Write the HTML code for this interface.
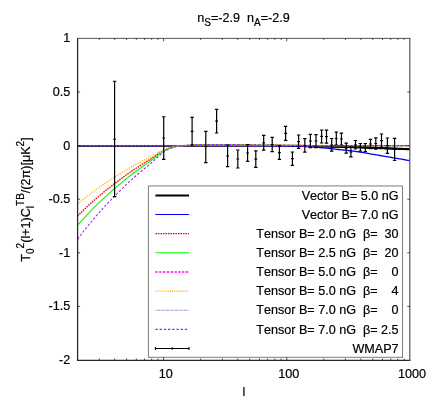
<!DOCTYPE html><html><head><meta charset="utf-8"><style>html,body{margin:0;padding:0;background:#fff}svg{display:block;will-change:transform}text{font-kerning:none;font-family:"Liberation Sans",sans-serif;font-size:12.6px;fill:#000;stroke:#000;stroke-width:0.2px}</style></head><body>
<svg width="429" height="401" viewBox="0 0 429 401">
<rect width="429" height="401" fill="#fff"/>
<g fill="none" stroke-linejoin="round">
<polyline points="318.45,146.31 320.11,146.34 321.77,146.37 323.43,146.40 325.09,146.44 326.75,146.47 328.41,146.51 330.07,146.55 331.73,146.59 333.39,146.64 335.06,146.68 336.72,146.72 338.38,146.76 340.04,146.80 341.70,146.84 343.36,146.88 345.02,146.92 346.68,146.95 348.34,146.99 350.00,147.03 351.67,147.07 353.33,147.11 354.99,147.16 356.65,147.21 358.31,147.26 359.97,147.32 361.63,147.38 363.29,147.45 364.95,147.51 366.61,147.58 368.27,147.64 369.94,147.71 371.60,147.78 373.26,147.84 374.92,147.91 376.58,147.97 378.24,148.03 379.90,148.09 381.56,148.16 383.22,148.22 384.88,148.28 386.55,148.34 388.21,148.41 389.87,148.47 391.53,148.53 393.19,148.60 394.85,148.66 396.51,148.72 398.17,148.78 399.83,148.85 401.50,148.91 403.16,148.97 404.82,149.03 406.48,149.10 408.14,149.16 409.80,149.22" stroke="#000" stroke-width="2.1"/>
<polyline points="77.60,145.90 79.26,145.90 80.92,145.90 82.58,145.90 84.24,145.90 85.91,145.90 87.57,145.90 89.23,145.90 90.89,145.90 92.55,145.90 94.21,145.90 95.87,145.90 97.53,145.90 99.19,145.90 100.85,145.90 102.52,145.90 104.18,145.90 105.84,145.90 107.50,145.90 109.16,145.90 110.82,145.90 112.48,145.90 114.14,145.90 115.80,145.90 117.46,145.90 119.12,145.90 120.79,145.90 122.45,145.90 124.11,145.90 125.77,145.90 127.43,145.90 129.09,145.90 130.75,145.90 132.41,145.90 134.07,145.90 135.74,145.90 137.40,145.90 139.06,145.90 140.72,145.90 142.38,145.90 144.04,145.90 145.70,145.90 147.36,145.90 149.02,145.90 150.68,145.90 152.34,145.90 154.01,145.90 155.67,145.90 157.33,145.90 158.99,145.90 160.65,145.90 162.31,145.90 163.97,145.90 165.63,145.90 167.29,145.90 168.96,145.90 170.62,145.90 172.28,145.90 173.94,145.90 175.60,145.90 177.26,145.90 178.92,145.90 180.58,145.90 182.24,145.90 183.90,145.90 185.56,145.90 187.23,145.90 188.89,145.90 190.55,145.90 192.21,145.90 193.87,145.90 195.53,145.90 197.19,145.90 198.85,145.90 200.51,145.90 202.18,145.90 203.84,145.90 205.50,145.90 207.16,145.90 208.82,145.90 210.48,145.90 212.14,145.90 213.80,145.90 215.46,145.90 217.12,145.90 218.79,145.90 220.45,145.90 222.11,145.90 223.77,145.90 225.43,145.90 227.09,145.90 228.75,145.90 230.41,145.90 232.07,145.90 233.73,145.90 235.40,145.90 237.06,145.90 238.72,145.90 240.38,145.90 242.04,145.90 243.70,145.90 245.36,145.90 247.02,145.90 248.68,145.90 250.34,145.90 252.01,145.90 253.67,145.90 255.33,145.90 256.99,145.90 258.65,145.90 260.31,145.90 261.97,145.90 263.63,145.90 265.29,145.90 266.95,145.90 268.62,145.90 270.28,145.91 271.94,145.91 273.60,145.91 275.26,145.92 276.92,145.92 278.58,145.92 280.24,145.93 281.90,145.93 283.56,145.94 285.23,145.94 286.89,145.95 288.55,145.96 290.21,145.97 291.87,145.98 293.53,145.99 295.19,146.01 296.85,146.02 298.51,146.04 300.17,146.06 301.84,146.07 303.50,146.09 305.16,146.11 306.82,146.13 308.48,146.15 310.14,146.17 311.80,146.20 313.46,146.22 315.12,146.25 316.78,146.28 318.45,146.31 320.11,146.34 321.77,146.37 323.43,146.40 325.09,146.44 326.75,146.47 328.41,146.51 330.07,146.55 331.73,146.59 333.39,146.64 335.06,146.68 336.72,146.72 338.38,146.76 340.04,146.80 341.70,146.84 343.36,146.88 345.02,146.92 346.68,146.95 348.34,146.99 350.00,147.03 351.67,147.07 353.33,147.11 354.99,147.16 356.65,147.21 358.31,147.26 359.97,147.32 361.63,147.38 363.29,147.45 364.95,147.51 366.61,147.58 368.27,147.64 369.94,147.71 371.60,147.78 373.26,147.84 374.92,147.91 376.58,147.97 378.24,148.03 379.90,148.09 381.56,148.16 383.22,148.22 384.88,148.28 386.55,148.34 388.21,148.41 389.87,148.47 391.53,148.53 393.19,148.60 394.85,148.66 396.51,148.72 398.17,148.78 399.83,148.85 401.50,148.91 403.16,148.97 404.82,149.03 406.48,149.10 408.14,149.16 409.80,149.22" stroke="#000" stroke-width="1.8"/>
<polyline points="77.60,145.60 79.26,145.60 80.92,145.60 82.58,145.60 84.24,145.60 85.91,145.60 87.57,145.60 89.23,145.60 90.89,145.60 92.55,145.60 94.21,145.60 95.87,145.60 97.53,145.60 99.19,145.60 100.85,145.60 102.52,145.60 104.18,145.60 105.84,145.60 107.50,145.60 109.16,145.60 110.82,145.60 112.48,145.60 114.14,145.60 115.80,145.60 117.46,145.60 119.12,145.60 120.79,145.60 122.45,145.60 124.11,145.60 125.77,145.60 127.43,145.60 129.09,145.60 130.75,145.60 132.41,145.60 134.07,145.60 135.74,145.60 137.40,145.60 139.06,145.60 140.72,145.60 142.38,145.60 144.04,145.60 145.70,145.60 147.36,145.60 149.02,145.60 150.68,145.60 152.34,145.60 154.01,145.60 155.67,145.60 157.33,145.60 158.99,145.60 160.65,145.60 162.31,145.60 163.97,145.60 165.63,145.60 167.29,145.60 168.96,145.60 170.62,145.60 172.28,145.60 173.94,145.60 175.60,145.60 177.26,145.60 178.92,145.60 180.58,145.60 182.24,145.60 183.90,145.60 185.56,145.60 187.23,145.60 188.89,145.60 190.55,145.60 192.21,145.60 193.87,145.60 195.53,145.60 197.19,145.60 198.85,145.60 200.51,145.60 202.18,145.60 203.84,145.60 205.50,145.60 207.16,145.60 208.82,145.60 210.48,145.60 212.14,145.60 213.80,145.60 215.46,145.60 217.12,145.60 218.79,145.60 220.45,145.60 222.11,145.60 223.77,145.60 225.43,145.60 227.09,145.60 228.75,145.60 230.41,145.60 232.07,145.60 233.73,145.60 235.40,145.60 237.06,145.60 238.72,145.60 240.38,145.60 242.04,145.60 243.70,145.60 245.36,145.60 247.02,145.60 248.68,145.60 250.34,145.60 252.01,145.60 253.67,145.60 255.33,145.60 256.99,145.60 258.65,145.60 260.31,145.60 261.97,145.60 263.63,145.60 265.29,145.60 266.95,145.61 268.62,145.62 270.28,145.63 271.94,145.64 273.60,145.66 275.26,145.67 276.92,145.69 278.58,145.71 280.24,145.73 281.90,145.75 283.56,145.77 285.23,145.80 286.89,145.82 288.55,145.86 290.21,145.90 291.87,145.96 293.53,146.02 295.19,146.09 296.85,146.16 298.51,146.24 300.17,146.31 301.84,146.38 303.50,146.47 305.16,146.55 306.82,146.64 308.48,146.74 310.14,146.84 311.80,146.94 313.46,147.06 315.12,147.18 316.78,147.31 318.45,147.44 320.11,147.58 321.77,147.73 323.43,147.88 325.09,148.03 326.75,148.19 328.41,148.37 330.07,148.55 331.73,148.74 333.39,148.93 335.06,149.12 336.72,149.31 338.38,149.50 340.04,149.68 341.70,149.85 343.36,150.02 345.02,150.19 346.68,150.35 348.34,150.52 350.00,150.70 351.67,150.89 353.33,151.08 354.99,151.29 356.65,151.52 358.31,151.76 359.97,152.02 361.63,152.30 363.29,152.58 364.95,152.88 366.61,153.18 368.27,153.48 369.94,153.78 371.60,154.08 373.26,154.38 374.92,154.66 376.58,154.95 378.24,155.23 379.90,155.51 381.56,155.79 383.22,156.07 384.88,156.36 386.55,156.64 388.21,156.92 389.87,157.21 391.53,157.49 393.19,157.77 394.85,158.05 396.51,158.34 398.17,158.62 399.83,158.90 401.50,159.19 403.16,159.47 404.82,159.76 406.48,160.04 408.14,160.32 409.80,160.61" stroke="#0000ff" stroke-width="1.3"/>
<polyline points="77.60,215.92 79.26,214.28 80.92,212.65 82.58,211.04 84.24,209.45 85.91,207.88 87.57,206.32 89.23,204.79 90.89,203.27 92.55,201.77 94.21,200.29 95.87,198.83 97.53,197.38 99.19,195.95 100.85,194.54 102.52,193.16 104.18,191.79 105.84,190.45 107.50,189.13 109.16,187.82 110.82,186.52 112.48,185.24 114.14,183.96 115.80,182.70 117.46,181.44 119.12,180.20 120.79,178.96 122.45,177.73 124.11,176.52 125.77,175.32 127.43,174.14 129.09,172.97 130.75,171.81 132.41,170.68 134.07,169.56 135.74,168.47 137.40,167.40 139.06,166.33 140.72,165.28 142.38,164.24 144.04,163.20 145.70,162.16 147.36,161.12 149.02,160.07 150.68,159.02 152.34,157.94 154.01,156.82 155.67,155.68 157.33,154.54 158.99,153.43 160.65,152.37 162.31,151.39 163.97,150.49 165.63,149.64 167.29,148.85 168.96,148.17 170.62,147.63 172.28,147.14 173.94,146.74 175.60,146.44 177.26,146.22 178.92,146.03 180.58,145.88 182.24,145.74 183.90,145.62 185.56,145.51 187.23,145.42 188.89,145.33 190.55,145.25 192.21,145.17 193.87,145.07 195.53,144.96 197.19,144.86 198.85,144.79 200.51,144.76 202.18,144.76 203.84,144.76 205.50,144.76 207.16,144.76 208.82,144.76 210.48,144.76 212.14,144.76 213.80,144.76 215.46,144.76 217.12,144.76 218.79,144.76 220.45,144.76 222.11,144.76 223.77,144.76 225.43,144.76 227.09,144.77 228.75,144.78 230.41,144.79 232.07,144.80 233.73,144.81 235.40,144.83 237.06,144.85 238.72,144.87 240.38,144.89 242.04,144.91 243.70,144.93 245.36,144.95 247.02,144.97 248.68,144.99 250.34,145.01 252.01,145.03 253.67,145.05 255.33,145.07 256.99,145.09 258.65,145.10 260.31,145.12 261.97,145.13 263.63,145.14 265.29,145.16 266.95,145.17 268.62,145.18 270.28,145.19 271.94,145.21 273.60,145.22 275.26,145.23 276.92,145.24 278.58,145.26 280.24,145.27 281.90,145.28 283.56,145.29 285.23,145.31 286.89,145.32 288.55,145.33 290.21,145.35 291.87,145.36 293.53,145.38 295.19,145.39 296.85,145.41 298.51,145.43 300.17,145.44 301.84,145.46 303.50,145.48 305.16,145.49 306.82,145.51 308.48,145.52 310.14,145.54 311.80,145.55 313.46,145.56 315.12,145.57 316.78,145.58 318.45,145.59 320.11,145.59 321.77,145.60 323.43,145.60 325.09,145.60 326.75,145.60 328.41,145.60 330.07,145.60 331.73,145.60 333.39,145.60 335.06,145.60 336.72,145.60 338.38,145.60 340.04,145.60 341.70,145.60 343.36,145.60 345.02,145.60 346.68,145.60 348.34,145.60 350.00,145.60 351.67,145.60 353.33,145.60 354.99,145.60 356.65,145.60 358.31,145.60 359.97,145.60 361.63,145.60 363.29,145.60 364.95,145.60 366.61,145.60 368.27,145.60 369.94,145.60 371.60,145.60 373.26,145.60 374.92,145.60 376.58,145.60 378.24,145.60 379.90,145.60 381.56,145.60 383.22,145.60 384.88,145.60 386.55,145.60 388.21,145.60 389.87,145.60 391.53,145.60 393.19,145.60 394.85,145.60 396.51,145.60 398.17,145.60 399.83,145.60 401.50,145.60 403.16,145.60 404.82,145.60 406.48,145.60 408.14,145.60 409.80,145.60" stroke="#ff0000" stroke-width="1.35" stroke-dasharray="1.6 0.9"/>
<polyline points="77.60,225.14 79.26,223.28 80.92,221.44 82.58,219.62 84.24,217.82 85.91,216.04 87.57,214.28 89.23,212.55 90.89,210.83 92.55,209.13 94.21,207.46 95.87,205.80 97.53,204.17 99.19,202.55 100.85,200.96 102.52,199.39 104.18,197.85 105.84,196.33 107.50,194.83 109.16,193.35 110.82,191.89 112.48,190.43 114.14,188.99 115.80,187.56 117.46,186.14 119.12,184.73 120.79,183.33 122.45,181.95 124.11,180.57 125.77,179.22 127.43,177.88 129.09,176.55 130.75,175.25 132.41,173.97 134.07,172.71 135.74,171.47 137.40,170.25 139.06,169.05 140.72,167.86 142.38,166.68 144.04,165.51 145.70,164.33 147.36,163.16 149.02,161.97 150.68,160.78 152.34,159.55 154.01,158.29 155.67,157.00 157.33,155.72 158.99,154.46 160.65,153.26 162.31,152.14 163.97,151.13 165.63,150.17 167.29,149.28 168.96,148.51 170.62,147.89 172.28,147.35 173.94,146.89 175.60,146.55 177.26,146.30 178.92,146.09 180.58,145.92 182.24,145.76 183.90,145.63 185.56,145.50 187.23,145.39 188.89,145.30 190.55,145.20 192.21,145.11 193.87,145.00 195.53,144.88 197.19,144.77 198.85,144.68 200.51,144.65 202.18,144.65 203.84,144.65 205.50,144.65 207.16,144.65 208.82,144.65 210.48,144.65 212.14,144.65 213.80,144.65 215.46,144.65 217.12,144.65 218.79,144.65 220.45,144.65 222.11,144.65 223.77,144.65 225.43,144.65 227.09,144.66 228.75,144.67 230.41,144.68 232.07,144.70 233.73,144.71 235.40,144.73 237.06,144.75 238.72,144.77 240.38,144.79 242.04,144.82 243.70,144.84 245.36,144.86 247.02,144.89 248.68,144.91 250.34,144.93 252.01,144.96 253.67,144.98 255.33,145.00 256.99,145.02 258.65,145.04 260.31,145.05 261.97,145.07 263.63,145.08 265.29,145.10 266.95,145.11 268.62,145.13 270.28,145.14 271.94,145.16 273.60,145.17 275.26,145.18 276.92,145.20 278.58,145.21 280.24,145.23 281.90,145.24 283.56,145.25 285.23,145.27 286.89,145.28 288.55,145.30 290.21,145.31 291.87,145.33 293.53,145.35 295.19,145.37 296.85,145.39 298.51,145.41 300.17,145.42 301.84,145.44 303.50,145.46 305.16,145.48 306.82,145.50 308.48,145.51 310.14,145.53 311.80,145.54 313.46,145.56 315.12,145.57 316.78,145.58 318.45,145.59 320.11,145.59 321.77,145.60 323.43,145.60 325.09,145.60 326.75,145.60 328.41,145.60 330.07,145.60 331.73,145.60 333.39,145.60 335.06,145.60 336.72,145.60 338.38,145.60 340.04,145.60 341.70,145.60 343.36,145.60 345.02,145.60 346.68,145.60 348.34,145.60 350.00,145.60 351.67,145.60 353.33,145.60 354.99,145.60 356.65,145.60 358.31,145.60 359.97,145.60 361.63,145.60 363.29,145.60 364.95,145.60 366.61,145.60 368.27,145.60 369.94,145.60 371.60,145.60 373.26,145.60 374.92,145.60 376.58,145.60 378.24,145.60 379.90,145.60 381.56,145.60 383.22,145.60 384.88,145.60 386.55,145.60 388.21,145.60 389.87,145.60 391.53,145.60 393.19,145.60 394.85,145.60 396.51,145.60 398.17,145.60 399.83,145.60 401.50,145.60 403.16,145.60 404.82,145.60 406.48,145.60 408.14,145.60 409.80,145.60" stroke="#00ff00" stroke-width="1.1"/>
<polyline points="77.60,145.65 409.80,145.65" stroke="#ff00ff" stroke-width="1.35" stroke-dasharray="1.5 2.3"/>
<polyline points="77.60,203.92 79.26,202.55 80.92,201.20 82.58,199.87 84.24,198.55 85.91,197.24 87.57,195.95 89.23,194.68 90.89,193.42 92.55,192.18 94.21,190.95 95.87,189.74 97.53,188.54 99.19,187.35 100.85,186.19 102.52,185.04 104.18,183.91 105.84,182.79 107.50,181.69 109.16,180.61 110.82,179.53 112.48,178.47 114.14,177.41 115.80,176.36 117.46,175.32 119.12,174.29 120.79,173.26 122.45,172.25 124.11,171.24 125.77,170.25 127.43,169.26 129.09,168.29 130.75,167.34 132.41,166.40 134.07,165.47 135.74,164.57 137.40,163.67 139.06,162.79 140.72,161.92 142.38,161.06 144.04,160.20 145.70,159.34 147.36,158.47 149.02,157.60 150.68,156.73 152.34,155.83 154.01,154.90 155.67,153.96 157.33,153.02 158.99,152.10 160.65,151.22 162.31,150.40 163.97,149.65 165.63,148.95 167.29,148.30 168.96,147.73 170.62,147.28 172.28,146.88 173.94,146.54 175.60,146.30 177.26,146.11 178.92,145.96 180.58,145.83 182.24,145.72 183.90,145.62 185.56,145.53 187.23,145.45 188.89,145.38 190.55,145.31 192.21,145.24 193.87,145.16 195.53,145.07 197.19,144.99 198.85,144.93 200.51,144.90 202.18,144.90 203.84,144.90 205.50,144.90 207.16,144.90 208.82,144.90 210.48,144.90 212.14,144.90 213.80,144.90 215.46,144.90 217.12,144.90 218.79,144.90 220.45,144.90 222.11,144.90 223.77,144.90 225.43,144.90 227.09,144.91 228.75,144.92 230.41,144.93 232.07,144.94 233.73,144.95 235.40,144.96 237.06,144.98 238.72,144.99 240.38,145.01 242.04,145.03 243.70,145.04 245.36,145.06 247.02,145.08 248.68,145.09 250.34,145.11 252.01,145.13 253.67,145.14 255.33,145.16 256.99,145.17 258.65,145.19 260.31,145.20 261.97,145.21 263.63,145.22 265.29,145.23 266.95,145.24 268.62,145.25 270.28,145.26 271.94,145.27 273.60,145.28 275.26,145.30 276.92,145.31 278.58,145.32 280.24,145.33 281.90,145.34 283.56,145.35 285.23,145.36 286.89,145.37 288.55,145.38 290.21,145.39 291.87,145.40 293.53,145.42 295.19,145.43 296.85,145.44 298.51,145.46 300.17,145.47 301.84,145.49 303.50,145.50 305.16,145.51 306.82,145.52 308.48,145.54 310.14,145.55 311.80,145.56 313.46,145.57 315.12,145.58 316.78,145.59 318.45,145.59 320.11,145.60 321.77,145.60 323.43,145.60 325.09,145.60 326.75,145.60 328.41,145.60 330.07,145.60 331.73,145.60 333.39,145.60 335.06,145.60 336.72,145.60 338.38,145.60 340.04,145.60 341.70,145.60 343.36,145.60 345.02,145.60 346.68,145.60 348.34,145.60 350.00,145.60 351.67,145.60 353.33,145.60 354.99,145.60 356.65,145.60 358.31,145.60 359.97,145.60 361.63,145.60 363.29,145.60 364.95,145.60 366.61,145.60 368.27,145.60 369.94,145.60 371.60,145.60 373.26,145.60 374.92,145.60 376.58,145.60 378.24,145.60 379.90,145.60 381.56,145.60 383.22,145.60 384.88,145.60 386.55,145.60 388.21,145.60 389.87,145.60 391.53,145.60 393.19,145.60 394.85,145.60 396.51,145.60 398.17,145.60 399.83,145.60 401.50,145.60 403.16,145.60 404.82,145.60 406.48,145.60 408.14,145.60 409.80,145.60" stroke="#ffa500" stroke-width="1.3" stroke-dasharray="1 1.1"/>
<polyline points="77.60,145.45 409.80,145.45" stroke="#8080c0" stroke-width="0.9" stroke-dasharray="0.6 0.9"/>
<polyline points="77.60,239.08 79.26,236.89 80.92,234.72 82.58,232.59 84.24,230.47 85.91,228.38 87.57,226.32 89.23,224.28 90.89,222.26 92.55,220.27 94.21,218.30 95.87,216.35 97.53,214.43 99.19,212.53 100.85,210.66 102.52,208.82 104.18,207.01 105.84,205.22 107.50,203.46 109.16,201.72 110.82,200.00 112.48,198.29 114.14,196.60 115.80,194.91 117.46,193.24 119.12,191.59 120.79,189.94 122.45,188.31 124.11,186.70 125.77,185.11 127.43,183.53 129.09,181.98 130.75,180.45 132.41,178.94 134.07,177.45 135.74,176.00 137.40,174.57 139.06,173.16 140.72,171.77 142.38,170.38 144.04,169.00 145.70,167.62 147.36,166.23 149.02,164.84 150.68,163.43 152.34,162.00 154.01,160.51 155.67,159.00 157.33,157.49 158.99,156.01 160.65,154.61 162.31,153.29 163.97,152.10 165.63,150.97 167.29,149.92 168.96,149.02 170.62,148.30 172.28,147.65 173.94,147.11 175.60,146.71 177.26,146.42 178.92,146.18 180.58,145.97 182.24,145.79 183.90,145.63 185.56,145.48 187.23,145.36 188.89,145.24 190.55,145.14 192.21,145.02 193.87,144.89 195.53,144.75 197.19,144.62 198.85,144.52 200.51,144.48 202.18,144.48 203.84,144.48 205.50,144.48 207.16,144.48 208.82,144.48 210.48,144.48 212.14,144.48 213.80,144.48 215.46,144.48 217.12,144.48 218.79,144.48 220.45,144.48 222.11,144.48 223.77,144.48 225.43,144.48 227.09,144.49 228.75,144.50 230.41,144.52 232.07,144.54 233.73,144.56 235.40,144.58 237.06,144.60 238.72,144.63 240.38,144.65 242.04,144.68 243.70,144.71 245.36,144.73 247.02,144.76 248.68,144.79 250.34,144.82 252.01,144.84 253.67,144.87 255.33,144.89 256.99,144.92 258.65,144.94 260.31,144.96 261.97,144.97 263.63,144.99 265.29,145.01 266.95,145.03 268.62,145.04 270.28,145.06 271.94,145.08 273.60,145.09 275.26,145.11 276.92,145.13 278.58,145.14 280.24,145.16 281.90,145.18 283.56,145.19 285.23,145.21 286.89,145.23 288.55,145.25 290.21,145.26 291.87,145.28 293.53,145.31 295.19,145.33 296.85,145.35 298.51,145.37 300.17,145.39 301.84,145.42 303.50,145.44 305.16,145.46 306.82,145.48 308.48,145.50 310.14,145.52 311.80,145.53 313.46,145.55 315.12,145.56 316.78,145.58 318.45,145.59 320.11,145.59 321.77,145.60 323.43,145.60 325.09,145.60 326.75,145.60 328.41,145.60 330.07,145.60 331.73,145.60 333.39,145.60 335.06,145.60 336.72,145.60 338.38,145.60 340.04,145.60 341.70,145.60 343.36,145.60 345.02,145.60 346.68,145.60 348.34,145.60 350.00,145.60 351.67,145.60 353.33,145.60 354.99,145.60 356.65,145.60 358.31,145.60 359.97,145.60 361.63,145.60 363.29,145.60 364.95,145.60 366.61,145.60 368.27,145.60 369.94,145.60 371.60,145.60 373.26,145.60 374.92,145.60 376.58,145.60 378.24,145.60 379.90,145.60 381.56,145.60 383.22,145.60 384.88,145.60 386.55,145.60 388.21,145.60 389.87,145.60 391.53,145.60 393.19,145.60 394.85,145.60 396.51,145.60 398.17,145.60 399.83,145.60 401.50,145.60 403.16,145.60 404.82,145.60 406.48,145.60 408.14,145.60 409.80,145.60" stroke="#a020f0" stroke-width="1.05" stroke-dasharray="2.4 1.8"/>
</g>
<g stroke="#000" stroke-width="1.2" fill="none">
<path d="M114.60 81.25V196.60M112.90 81.25h3.4M112.90 196.60h3.4M113.20 139.25h2.8"/>
<path d="M163.70 116.75V159.30M162.00 116.75h3.4M162.00 159.30h3.4M162.30 138.00h2.8"/>
<path d="M192.10 117.40V145.20M190.40 117.40h3.4M190.40 145.20h3.4M190.70 131.40h2.8"/>
<path d="M205.80 131.40V162.60M204.10 131.40h3.4M204.10 162.60h3.4M204.40 146.60h2.8"/>
<path d="M216.60 109.40V133.00M214.90 109.40h3.4M214.90 133.00h3.4M215.20 121.20h2.8"/>
<path d="M227.60 145.00V166.60M225.90 145.00h3.4M225.90 166.60h3.4M226.20 156.00h2.8"/>
<path d="M237.80 150.00V168.00M236.10 150.00h3.4M236.10 168.00h3.4M236.40 159.00h2.8"/>
<path d="M247.60 144.60V161.40M245.90 144.60h3.4M245.90 161.40h3.4M246.20 153.00h2.8"/>
<path d="M255.80 150.80V167.40M254.10 150.80h3.4M254.10 167.40h3.4M254.40 159.20h2.8"/>
<path d="M263.70 135.40V150.10M262.00 135.40h3.4M262.00 150.10h3.4M262.30 142.80h2.8"/>
<path d="M272.20 137.40V151.60M270.50 137.40h3.4M270.50 151.60h3.4M270.80 144.60h2.8"/>
<path d="M279.40 145.60V159.40M277.70 145.60h3.4M277.70 159.40h3.4M278.00 152.60h2.8"/>
<path d="M285.60 126.40V140.40M283.90 126.40h3.4M283.90 140.40h3.4M284.20 133.40h2.8"/>
<path d="M292.40 152.00V165.40M290.70 152.00h3.4M290.70 165.40h3.4M291.00 158.60h2.8"/>
<path d="M298.60 135.00V148.40M296.90 135.00h3.4M296.90 148.40h3.4M297.20 141.60h2.8"/>
<path d="M304.80 138.60V152.20M303.10 138.60h3.4M303.10 152.20h3.4M303.40 145.60h2.8"/>
<path d="M310.40 134.40V147.60M308.70 134.40h3.4M308.70 147.60h3.4M309.00 141.00h2.8"/>
<path d="M316.00 134.60V147.60M314.30 134.60h3.4M314.30 147.60h3.4M314.60 141.00h2.8"/>
<path d="M321.60 130.00V143.00M319.90 130.00h3.4M319.90 143.00h3.4M320.20 136.40h2.8"/>
<path d="M326.50 130.10V143.20M324.80 130.10h3.4M324.80 143.20h3.4M325.10 136.60h2.8"/>
<path d="M331.70 138.50V151.20M330.00 138.50h3.4M330.00 151.20h3.4M330.30 145.00h2.8"/>
<path d="M336.30 132.20V145.00M334.60 132.20h3.4M334.60 145.00h3.4M334.90 138.50h2.8"/>
<path d="M341.40 133.20V145.00M339.70 133.20h3.4M339.70 145.00h3.4M340.00 139.00h2.8"/>
<path d="M346.20 143.10V153.20M344.50 143.10h3.4M344.50 153.20h3.4M344.80 148.20h2.8"/>
<path d="M350.90 147.10V156.90M349.20 147.10h3.4M349.20 156.90h3.4M349.50 152.00h2.8"/>
<path d="M355.50 140.50V149.00M353.80 140.50h3.4M353.80 149.00h3.4M354.10 144.80h2.8"/>
<path d="M360.40 143.50V151.20M358.70 143.50h3.4M358.70 151.20h3.4M359.00 147.30h2.8"/>
<path d="M365.30 143.50V151.60M363.60 143.50h3.4M363.60 151.60h3.4M363.90 147.50h2.8"/>
<path d="M370.50 139.30V148.60M368.80 139.30h3.4M368.80 148.60h3.4M369.10 144.00h2.8"/>
<path d="M375.80 137.90V149.10M374.10 137.90h3.4M374.10 149.10h3.4M374.40 143.50h2.8"/>
<path d="M381.50 134.00V147.40M379.80 134.00h3.4M379.80 147.40h3.4M380.10 140.70h2.8"/>
<path d="M387.40 138.00V153.30M385.70 138.00h3.4M385.70 153.30h3.4M386.00 145.60h2.8"/>
<path d="M394.60 138.30V160.50M392.90 138.30h3.4M392.90 160.50h3.4M393.20 149.40h2.8"/>
</g>
<rect x="148.40" y="185.95" width="254.10" height="171.35" fill="#fff" stroke="#7c7c7c" stroke-width="1"/>
<path d="M155.40 195.40H189.00" fill="none" stroke="#000" stroke-width="2.0"/>
<text x="398.6" y="199.60" text-anchor="end" xml:space="preserve">Vector B= 5.0 nG</text>
<path d="M155.40 214.54H189.00" fill="none" stroke="#0000ff" stroke-width="1.1"/>
<text x="398.6" y="218.74" text-anchor="end" xml:space="preserve">Vector B= 7.0 nG</text>
<path d="M155.40 233.68H189.00" fill="none" stroke="#ff0000" stroke-width="1.35" stroke-dasharray="1.6 0.9"/>
<text x="398.6" y="237.88" text-anchor="end" xml:space="preserve">Tensor B= 2.0 nG  β=  30</text>
<path d="M155.40 252.82H189.00" fill="none" stroke="#00ff00" stroke-width="1.1"/>
<text x="398.6" y="257.02" text-anchor="end" xml:space="preserve">Tensor B= 2.5 nG  β=  20</text>
<path d="M155.40 271.96H189.00" fill="none" stroke="#ff00ff" stroke-width="1.35" stroke-dasharray="2.4 1.4"/>
<text x="398.6" y="276.16" text-anchor="end" xml:space="preserve">Tensor B= 5.0 nG  β=    0</text>
<path d="M155.40 291.10H189.00" fill="none" stroke="#ffa500" stroke-width="1.3" stroke-dasharray="1 1.1"/>
<text x="398.6" y="295.30" text-anchor="end" xml:space="preserve">Tensor B= 5.0 nG  β=    4</text>
<path d="M155.40 310.24H189.00" fill="none" stroke="#7878bc" stroke-width="1.2" stroke-dasharray="0.75 0.55"/>
<text x="398.6" y="314.44" text-anchor="end" xml:space="preserve">Tensor B= 7.0 nG  β=    0</text>
<path d="M155.40 329.38H189.00" fill="none" stroke="#a020f0" stroke-width="1.05" stroke-dasharray="2.4 1.8"/>
<text x="398.6" y="333.58" text-anchor="end" xml:space="preserve">Tensor B= 7.0 nG  β= 2.5</text>
<path d="M155.40 348.52H189.00" fill="none" stroke="#000" stroke-width="1.2"/>
<text x="398.6" y="352.72" text-anchor="end" xml:space="preserve">WMAP7</text>
<path d="M155.40 347.02v3M189.00 347.02v3M172.20 347.32v2.4M171.00 348.52h2.4" stroke="#000" stroke-width="1.1" fill="none"/>
<path d="M77.60 38.00V360.80" stroke="#262626" stroke-width="1.25" fill="none"/>
<path d="M77.00 360.25H410.40" stroke="#262626" stroke-width="1.25" fill="none"/>
<path d="M77.00 38.40H410.40" stroke="#444" stroke-width="0.9" fill="none"/>
<path d="M409.80 38.00V360.70" stroke="#555" stroke-width="1.2" fill="none"/>
<path d="M99.27 360.00v-1.50M99.27 38.40v1.50M114.65 360.00v-1.50M114.65 38.40v1.50M126.58 360.00v-1.50M126.58 38.40v1.50M136.33 360.00v-1.50M136.33 38.40v1.50M144.57 360.00v-1.50M144.57 38.40v1.50M151.70 360.00v-1.50M151.70 38.40v1.50M158.00 360.00v-1.50M158.00 38.40v1.50M163.63 360.00v-2.90M163.63 38.40v2.90M200.68 360.00v-1.50M200.68 38.40v1.50M222.36 360.00v-1.50M222.36 38.40v1.50M237.74 360.00v-1.50M237.74 38.40v1.50M249.66 360.00v-1.50M249.66 38.40v1.50M259.41 360.00v-1.50M259.41 38.40v1.50M267.65 360.00v-1.50M267.65 38.40v1.50M274.79 360.00v-1.50M274.79 38.40v1.50M281.08 360.00v-1.50M281.08 38.40v1.50M286.72 360.00v-2.90M286.72 38.40v2.90M323.77 360.00v-1.50M323.77 38.40v1.50M345.44 360.00v-1.50M345.44 38.40v1.50M360.82 360.00v-1.50M360.82 38.40v1.50M372.75 360.00v-1.50M372.75 38.40v1.50M382.49 360.00v-1.50M382.49 38.40v1.50M390.73 360.00v-1.50M390.73 38.40v1.50M397.87 360.00v-1.50M397.87 38.40v1.50M404.17 360.00v-1.50M404.17 38.40v1.50M77.60 92.00h2.5M409.80 92.00h-2.5M77.60 145.60h2.5M409.80 145.60h-2.5M77.60 199.20h2.5M409.80 199.20h-2.5M77.60 252.80h2.5M409.80 252.80h-2.5M77.60 306.40h2.5M409.80 306.40h-2.5" stroke="#222" stroke-width="0.8" fill="none"/>
<text x="70.3" y="42.35" text-anchor="end">1</text>
<text x="70.3" y="95.95" text-anchor="end">0.5</text>
<text x="70.3" y="149.55" text-anchor="end">0</text>
<text x="70.3" y="203.15" text-anchor="end">-0.5</text>
<text x="70.3" y="256.75" text-anchor="end">-1</text>
<text x="70.3" y="310.35" text-anchor="end">-1.5</text>
<text x="70.3" y="363.95" text-anchor="end">-2</text>
<text x="165.73" y="377.6" text-anchor="middle">10</text>
<text x="288.82" y="377.6" text-anchor="middle">100</text>
<text x="411.90" y="377.6" text-anchor="middle">1000</text>
<text x="243.9" y="396.3" text-anchor="middle">l</text>
<text x="243.5" y="21.6" text-anchor="middle" xml:space="preserve">n<tspan font-size="10" dy="4.3">S</tspan><tspan dy="-4.3">=-2.9  n</tspan><tspan font-size="10" dy="4.3">A</tspan><tspan dy="-4.3">=-2.9</tspan></text>
<text transform="translate(29.5,199.5) rotate(-90)" text-anchor="middle" xml:space="preserve">T<tspan font-size="10" dy="4.4">0</tspan><tspan font-size="10" dy="-10">2</tspan><tspan dy="5.6">(l+1)C</tspan><tspan font-size="10" dy="4.4">l</tspan><tspan font-size="10" dy="-10">TB</tspan><tspan dy="5.6">/(2π)[μK</tspan><tspan font-size="10" dy="-5.6">2</tspan><tspan dy="5.6">]</tspan></text>
</svg></body></html>
